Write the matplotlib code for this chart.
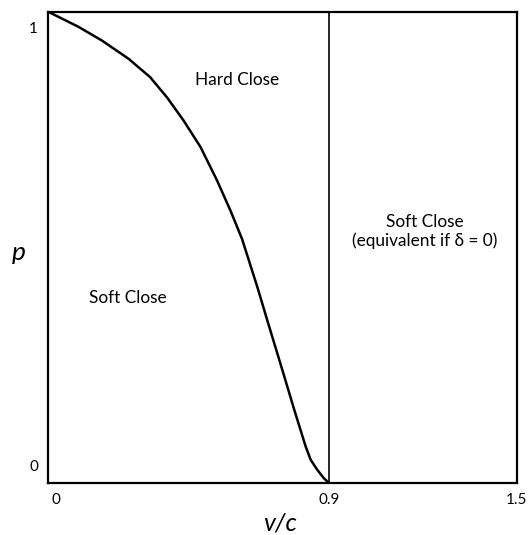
import matplotlib
matplotlib.use("Agg")
import matplotlib.pyplot as plt

plt.rcParams['font.family'] = ['Lato', 'DejaVu Sans']

# curve (v/c, p)
vc = [0.0, 0.097, 0.172, 0.258, 0.327, 0.381, 0.434, 0.488, 0.541, 0.584,
      0.621, 0.670, 0.702, 0.734, 0.760, 0.787, 0.825, 0.841, 0.862,
      0.883, 0.9]
p = [1.0, 0.968, 0.939, 0.900, 0.861, 0.818, 0.769, 0.713, 0.642, 0.578,
     0.518, 0.416, 0.345, 0.275, 0.218, 0.158, 0.077, 0.049, 0.028,
     0.010, 0.0]

v_split = 0.9
x_max = 1.5
x_ticks = [0, 0.9, 1.5]
x_tick_labels = ['0', '0.9', '1.5']
y_ticks = [0, 1]
y_tick_labels = ['0', '1']

fig = plt.figure(figsize=(5.31, 5.35), dpi=100)
ax = fig.add_axes([0.0904, 0.0972, 0.8825, 0.881])

ax.plot(vc, p, color='black', linewidth=1.8, solid_joinstyle='round')
ax.plot([v_split, v_split], [0, 1], color='black', linewidth=1.2)

ax.set_xlim(0, x_max)
ax.set_ylim(0, 1)
for s in ax.spines.values():
    s.set_linewidth(1.6)
ax.set_xticks([])
ax.set_yticks([])

# tick labels placed like in the original
for xt, lab in zip(x_ticks, x_tick_labels):
    dx = 0.025 if xt == 0 else 0.0
    ax.text(xt + dx, -0.036, lab, ha='center', va='center', fontsize=11)
for yt, lab in zip(y_ticks, y_tick_labels):
    ax.text(-0.046, yt + (0.033 if yt == 0 else -0.036), lab,
            ha='center', va='center', fontsize=11)

ax.text(0.606, 0.856, 'Hard Close', ha='center', va='center', fontsize=12.4)
ax.text(0.256, 0.392, 'Soft Close', ha='center', va='center', fontsize=12.4)
ax.text(1.205, 0.534, 'Soft Close\n(equivalent if δ = 0)', ha='center',
        va='center', fontsize=12.4, linespacing=1.15)

ax.text(-0.093, 0.49, 'p', ha='center', va='center', fontsize=19,
        style='italic')
ax.text(0.743, -0.084, 'v/c', ha='center', va='center', fontsize=18,
        style='italic')

fig.savefig('out.png', dpi=100)
